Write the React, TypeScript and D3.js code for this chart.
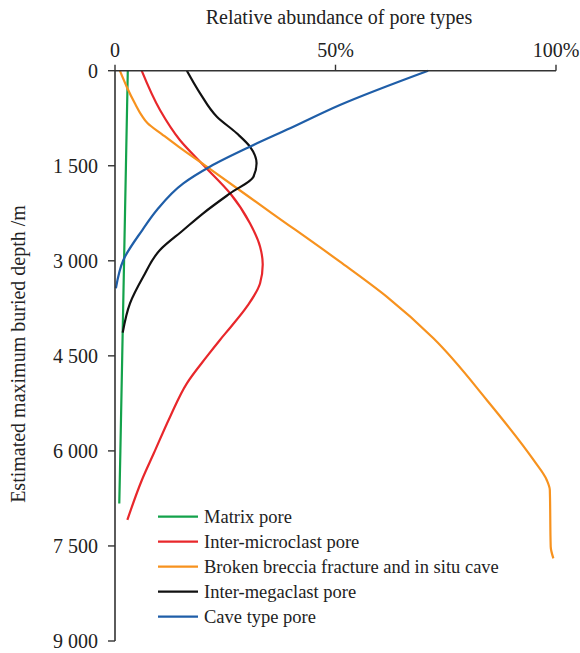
import React from "react";
import * as d3 from "d3";

const xTicks = [0, 50, 100];
const xTickLabels = ["0", "50%", "100%"];
const yTicks = [0, 1500, 3000, 4500, 6000, 7500, 9000];
const yTickLabels = ["0", "1 500", "3 000", "4 500", "6 000", "7 500", "9 000"];

const matrixDepth = [0, 1500, 3000, 4500, 6000, 6830];
const matrixValue = [2.9, 2.48, 2.06, 1.64, 1.22, 0.97];

const microDepth = [0, 620, 1093, 1515, 1935, 2408, 2777, 3060, 3355, 3724, 4040, 4249, 4513, 4933, 5460, 6038, 6459, 7090];
const microValue = [6.05, 10.2, 14.7, 20.4, 26.1, 30.6, 32.9, 33.5, 32.9, 29.9, 26.3, 23.8, 20.8, 16.3, 12.5, 8.8, 6.1, 2.8];

const brecciaDepth = [0, 252, 515, 700, 830, 1000, 1199, 1515, 2250, 3014, 3566, 4223, 5196, 6143, 6459, 6617, 7511, 7695];
const brecciaValue = [1.1, 2.65, 4.5, 6.0, 7.4, 10.6, 14.4, 20.8, 35.6, 51, 61.6, 72.2, 84.3, 94.9, 97.9, 98.6, 98.8, 99.4];

const megaDepth = [0, 357, 726, 988, 1199, 1461, 1673, 1935, 2250, 2514, 2829, 3251, 3671, 4134];
const megaValue = [16.3, 19.3, 23.1, 27.6, 30.6, 32.1, 31.4, 26.1, 20.0, 15.5, 10.2, 6.4, 3.4, 1.75];

const caveDepth = [0, 541, 909, 1199, 1515, 1777, 2198, 2514, 2987, 3434];
const caveValue = [71, 51, 39.7, 30.6, 21.5, 15.5, 9.5, 6.2, 1.9, 0.2];

const seriesNames = [
  "Matrix pore",
  "Inter-microclast pore",
  "Broken breccia fracture and in situ cave",
  "Inter-megaclast pore",
  "Cave type pore",
];
const seriesColors = ["#13a24b", "#e8272b", "#f7921e", "#111111", "#1f5ea8"];
const seriesDepths = [matrixDepth, microDepth, brecciaDepth, megaDepth, caveDepth];
const seriesValues = [matrixValue, microValue, brecciaValue, megaValue, caveValue];

const FONT = "'Liberation Serif', 'Times New Roman', serif";

export default function App() {
  const W = 580;
  const H = 653;
  const x = d3.scaleLinear().domain([0, 100]).range([115, 556]);
  const y = d3.scaleLinear().domain([0, 9000]).range([70.7, 641]);
  const axisColor = "#333";

  const line = d3
    .line<[number, number]>()
    .x((d) => x(d[1]))
    .y((d) => y(d[0]))
    .curve(d3.curveMonotoneY);

  return (
    <svg width={W} height={H} style={{ position: "absolute", left: 0, top: 0, background: "#fff" }}>
      <text x={339} y={24} textAnchor="middle" fontFamily={FONT} fontSize={20} fill="#222">
        Relative abundance of pore types
      </text>
      <text
        transform={`translate(25, 354) rotate(-90)`}
        textAnchor="middle"
        fontFamily={FONT}
        fontSize={20}
        fill="#222"
      >
        Estimated maximum buried depth /m
      </text>

      {seriesNames.map((name, i) => {
        const pts = seriesDepths[i].map((d, j) => [d, seriesValues[i][j]] as [number, number]);
        return (
          <path key={name} d={line(pts) || ""} fill="none" stroke={seriesColors[i]} strokeWidth={2.2} />
        );
      })}

      <line x1={x(0)} x2={x(100)} y1={y(0)} y2={y(0)} stroke={axisColor} strokeWidth={1.6} />
      {xTicks.map((t, i) => (
        <g key={t}>
          <line x1={x(t)} x2={x(t)} y1={y(0)} y2={y(0) - 6} stroke={axisColor} strokeWidth={1.4} />
          <text x={x(t)} y={57} textAnchor="middle" fontFamily={FONT} fontSize={20} fill="#222">
            {xTickLabels[i]}
          </text>
        </g>
      ))}

      <line x1={x(0)} x2={x(0)} y1={y(0)} y2={y(9000)} stroke={axisColor} strokeWidth={1.6} />
      {yTicks.map((t, i) => (
        <g key={t}>
          <line x1={x(0) - 7} x2={x(0)} y1={y(t)} y2={y(t)} stroke={axisColor} strokeWidth={1.4} />
          <text
            x={98}
            y={y(t)}
            dy="0.35em"
            textAnchor="end"
            fontFamily={FONT}
            fontSize={20}
            fill="#222"
          >
            {yTickLabels[i]}
          </text>
        </g>
      ))}

      {seriesNames.map((name, i) => {
        const ly = 516.7 + i * 25;
        return (
          <g key={"lg" + name}>
            <line x1={158} x2={198} y1={ly} y2={ly} stroke={seriesColors[i]} strokeWidth={2.2} />
            <text x={204} y={ly} dy="0.35em" fontFamily={FONT} fontSize={18.5} fill="#222">
              {name}
            </text>
          </g>
        );
      })}
    </svg>
  );
}
